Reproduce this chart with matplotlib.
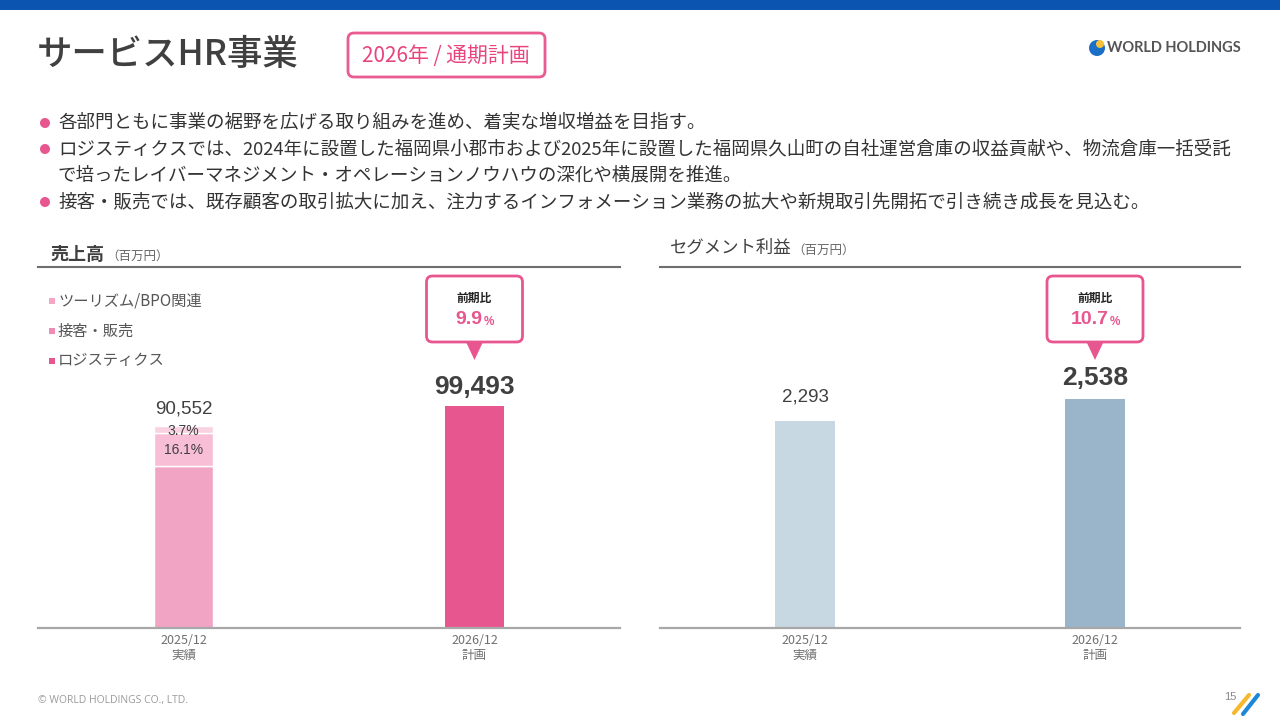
import numpy as np
import matplotlib
matplotlib.use("Agg")
import matplotlib.pyplot as plt
from matplotlib.patches import FancyBboxPatch, Rectangle, Polygon, Circle

plt.rcParams['font.family'] = ['Noto Sans CJK JP', 'DejaVu Sans']

# ---- data ----
periods = ['2025/12', '2026/12']
period_kinds = ['実績', '計画']
sales_total = [90552, 99493]
segment_names = ['ロジスティクス', '接客・販売', 'ツーリズム/BPO関連']
segment_share_2025 = [80.2, 16.1, 3.7]
profit = [2293, 2538]
sales_growth = '9.9'
profit_growth = '10.7'
bullets = [
    '各部門ともに事業の裾野を広げる取り組みを進め、着実な増収増益を目指す。',
    'ロジスティクスでは、2024年に設置した福岡県小郡市および2025年に設置した福岡県久山町の自社運営倉庫の収益貢献や、物流倉庫一括受託',
    'で培ったレイバーマネジメント・オペレーションノウハウの深化や横展開を推進。',
    '接客・販売では、既存顧客の取引拡大に加え、注力するインフォメーション業務の拡大や新規取引先開拓で引き続き成長を見込む。',
]

PINK = '#E8568F'
DARK = '#404040'
seg_colors = ['#F1A4C4', '#F7BED6', '#F9D2E2']
legend_colors = ['#E8568F', '#F08BB5', '#F4A7C5']
profit_colors = ['#C8D8E2', '#9AB5CA']
NUM = ['Liberation Sans', 'DejaVu Sans']

W, H = 1280, 720
fig = plt.figure(figsize=(12.8, 7.2), dpi=100)


def px_axes(x0, y0, x1, y1):
    # y0 top, y1 bottom in pixel coords from top
    return fig.add_axes([x0 / W, 1 - y1 / H, (x1 - x0) / W, (y1 - y0) / H])


# ---- chart axes ----
ax1 = px_axes(38, 268, 620, 628)
ax2 = px_axes(660, 268, 1240, 628)
for ax in (ax1, ax2):
    ax.set_xlim(-0.5, 1.5)
    for s in ('top', 'left', 'right'):
        ax.spines[s].set_visible(False)
    ax.spines['bottom'].set_color('#A8A8A8')
    ax.spines['bottom'].set_linewidth(1.6)
    ax.set_yticks([])
    ax.set_xticks(range(len(periods)))
    ax.set_xticklabels([f'{p}\n{k}' for p, k in zip(periods, period_kinds)],
                       fontsize=9, color='#707070', linespacing=1.25)
    ax.tick_params(axis='x', length=0, pad=4)
    ax.patch.set_alpha(0)

bw = 0.205
ax1.set_ylim(0, sales_total[0] * 360 / 202)
ax2.set_ylim(0, profit[0] * 360 / 207)

# stacked 2025 bar
bottom = 0
for name, share, c in zip(segment_names, segment_share_2025, seg_colors):
    h = sales_total[0] * share / 100
    ax1.bar(0, h, bw, bottom=bottom, color=c, edgecolor='white', linewidth=1)
    bottom += h
ax1.bar(1, sales_total[1], bw, color=PINK, linewidth=0)

# share labels inside the stack
b_log = sales_total[0] * segment_share_2025[0] / 100
b_srv = sales_total[0] * segment_share_2025[1] / 100
b_tour = sales_total[0] * segment_share_2025[2] / 100
ax1.text(0, b_log + b_srv / 2, f'{segment_share_2025[1]}%', ha='center', va='center',
         fontsize=10, color=DARK, family=NUM)
ax1.annotate(f'{segment_share_2025[2]}%', (0, b_log + b_srv + b_tour / 2), ha='center', va='center',
             fontsize=10, color=DARK, family=NUM, xytext=(0, -1), textcoords='offset points')

ax1.annotate(f'{sales_total[0]:,}', (0, sales_total[0]), xytext=(0, 12), textcoords='offset points',
             ha='center', va='center', fontsize=13.5, color=DARK, family=NUM)
ax1.annotate(f'{sales_total[1]:,}', (1, sales_total[1]), xytext=(0, 14), textcoords='offset points',
             ha='center', va='center', fontsize=19, color=DARK, family=NUM, weight='bold')

for i, v in enumerate(profit):
    ax2.bar(i, v, bw, color=profit_colors[i], linewidth=0)
ax2.annotate(f'{profit[0]:,}', (0, profit[0]), xytext=(0, 17), textcoords='offset points',
             ha='center', va='center', fontsize=13.5, color=DARK, family=NUM)
ax2.annotate(f'{profit[1]:,}', (1, profit[1]), xytext=(0, 15), textcoords='offset points',
             ha='center', va='center', fontsize=19, color=DARK, family=NUM, weight='bold')

# ---- overlay in pixel coords ----
ov = fig.add_axes([0, 0, 1, 1], zorder=5)
ov.set_xlim(0, W)
ov.set_ylim(H, 0)
ov.axis('off')
ov.patch.set_alpha(0)

ov.add_patch(Rectangle((0, 0), W, 10, color='#0B55B1', lw=0))

ov.text(37, 55, 'サービスHR事業', fontsize=25.5, color=DARK, va='center', ha='left', weight='medium')
ov.add_patch(FancyBboxPatch((348, 33), 197, 44, boxstyle='round,pad=0,rounding_size=6',
                            fc='white', ec='#EA5B91', lw=2))
ov.text(446, 56, '2026年 / 通期計画', fontsize=15, color='#E8457F', ha='center', va='center')

# logo
ov.add_patch(Circle((1097, 48), 8, color='#1C6FC6', lw=0))
ov.add_patch(Circle((1100, 44), 4, color='#F7C23A', lw=0))
ov.text(1107, 48, 'WORLD HOLDINGS', fontsize=10.5, color='#555555', family=['Lato', 'DejaVu Sans'],
        weight='bold', va='center', ha='left')

# bullets
bullet_y = [123, 149, 175, 202]
for i, (t, y) in enumerate(zip(bullets, bullet_y)):
    if i != 2:
        ov.add_patch(Circle((45, y), 5, color=PINK, lw=0))
    ov.text(58, y, t, fontsize=13.3, color='#333333', va='center', ha='left')

# panel headers
ov.plot([38, 620], [267, 267], color='#6E6E6E', lw=1.5)
ov.plot([660, 1240], [267, 267], color='#6E6E6E', lw=1.5)
ov.text(50, 254, '売上高', fontsize=13, weight='bold', color=DARK, va='center')
ov.text(106, 256, '（百万円）', fontsize=9, color='#666666', va='center')
ov.text(670, 248, 'セグメント利益', fontsize=12.5, color=DARK, va='center')
ov.text(792, 250, '（百万円）', fontsize=9, color='#666666', va='center')

# legend
for name, c, y in zip(segment_names[::-1], legend_colors[::-1], [301, 331, 361]):
    ov.add_patch(Rectangle((49, y - 3), 5.5, 5.5, color=c, lw=0))
    ov.text(58, y, name, fontsize=11, color='#555555', va='center')

fig.canvas.draw()
renderer = fig.canvas.get_renderer()


def callout(ax, idx, growth):
    cx = ax.transData.transform((idx, 0))[0]
    ov.add_patch(FancyBboxPatch((cx - 48, 276), 96, 66, boxstyle='round,pad=0,rounding_size=6',
                                fc='white', ec=PINK, lw=2))
    ov.add_patch(Polygon([[cx - 8, 343], [cx + 8, 343], [cx, 360]], closed=True, color=PINK, lw=0))
    ov.text(cx, 298, '前期比', fontsize=8.5, weight='bold', color='#222222', ha='center', va='center')
    num = ov.text(0, 320, growth, fontsize=14, weight='bold', color=PINK, ha='left', va='center',
                  family=NUM)
    pct = ov.text(0, 322, '%', fontsize=8.5, weight='bold', color=PINK, ha='left', va='center', family=NUM)
    wn = num.get_window_extent(renderer).width
    wp = pct.get_window_extent(renderer).width
    x0 = cx - (wn + wp + 1) / 2
    num.set_x(x0)
    pct.set_x(x0 + wn + 1)


callout(ax1, 1, sales_growth)
callout(ax2, 1, profit_growth)

# footer
ov.text(38, 700, '© WORLD HOLDINGS CO., LTD.', fontsize=7.5, color='#9A9A9A', va='center',
        family=['Open Sans', 'DejaVu Sans'])
ov.text(1236, 697, '15', fontsize=8, color='#888888', va='center', ha='right', family=NUM)
ov.plot([1234, 1249], [713, 695], color='#F5B82E', lw=3, solid_capstyle='round')
ov.plot([1243, 1258], [714, 695], color='#1E88D8', lw=3, solid_capstyle='round')

fig.savefig('out.png', dpi=100, facecolor='white')
